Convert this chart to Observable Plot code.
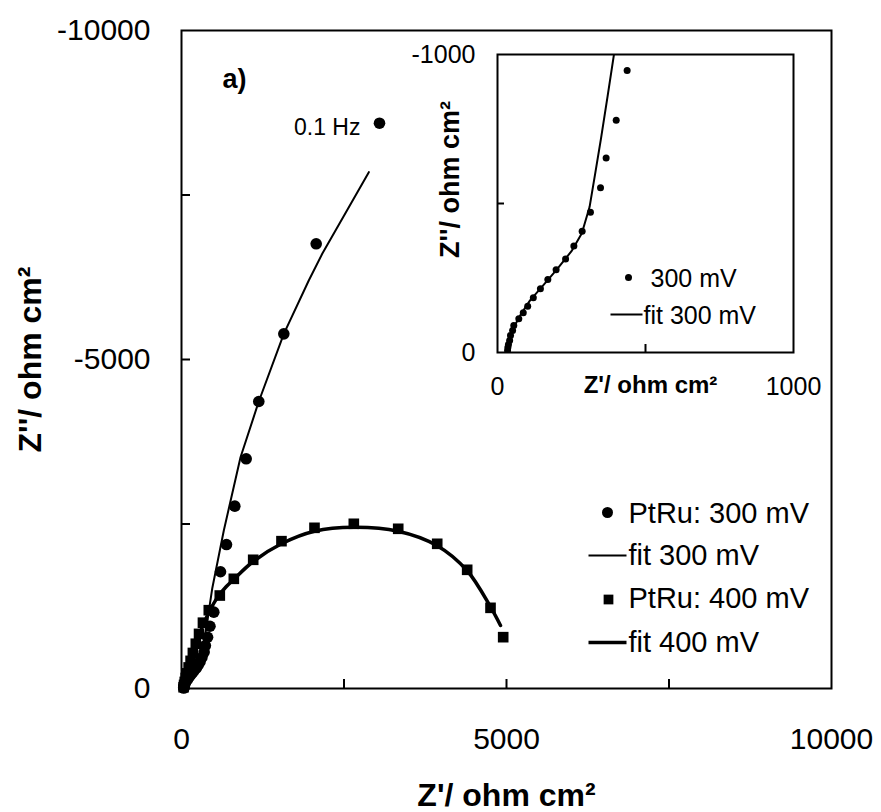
<!DOCTYPE html>
<html>
<head>
<meta charset="utf-8">
<script src="https://cdn.jsdelivr.net/npm/d3@7"></script>
<script src="https://cdn.jsdelivr.net/npm/@observablehq/plot@0.6"></script>
<style>
  body { margin: 0; background: #fff; }
  #chart { position: relative; width: 881px; height: 812px; }
  #chart svg { position: absolute; left: 0; top: 0; }
</style>
</head>
<body>
<div id="chart"></div>
<script>
// ---- data (Z' and Z'' in ohm cm2) ----
const re300 = [3046, 2072, 1574, 1189, 995, 820, 692, 600, 497, 438, 401, 367, 348, 314, 286, 258, 230, 198, 170, 145, 121, 102, 87, 72, 55, 51, 44, 41, 37, 35, 34];
const im300 = [-8591, -6758, -5390, -4362, -3491, -2771, -2188, -1774, -1160, -946, -779, -653, -553, -471, -407, -357, -314, -278, -245, -214, -184, -155, -133, -113, -91, -74, -57, -40, -27, -17, -7];
const fitRe300 = [33, 40, 55, 80, 110, 150, 200, 250, 285, 311, 330, 350, 372, 393, 472, 651, 908, 1189, 1574, 1958, 2165, 2882];
const fitIm300 = [0, -40, -85, -130, -175, -220, -278, -340, -400, -488, -600, -720, -860, -997, -1515, -2401, -3515, -4362, -5390, -6201, -6606, -7847];
const re400 = [4949, 4754, 4395, 3934, 3334, 2651, 2046, 1538, 1103, 805, 589, 420, 330, 270, 220, 175, 140, 110, 85, 65, 50, 40, 32];
const im400 = [-780, -1226, -1804, -2199, -2427, -2503, -2442, -2239, -1956, -1667, -1413, -1190, -1000, -830, -680, -540, -420, -320, -230, -160, -100, -55, -20];
const fitRe400 = [25, 38, 55, 80, 115, 160, 215, 285, 370, 470, 580, 690, 805, 1103, 1538, 2046, 2651, 3334, 3934, 4395, 4754, 4908];
const fitIm400 = [0, -50, -120, -220, -350, -500, -660, -850, -1050, -1250, -1420, -1550, -1660, -1930, -2200, -2390, -2450, -2390, -2170, -1790, -1240, -957];

// ticks and labels
const mainXTicks = [0, 5000, 10000];
const mainXMinor = [2500, 5000, 7500];
const mainYTicks = [0, -5000, -10000];
const mainYMinor = [-2500, -5000, -7500];
const insetXTicks = [0, 1000];
const insetXMinor = [500];
const insetYTicks = [0, -1000];
const insetYMinor = [-500];
const xTitle = "Z'/ ohm cm²";
const yTitle = "Z''/ ohm cm²";
const panelLabel = "a)";
const freqLabel = "0.1 Hz";
const legendMain = ["PtRu: 300 mV", "fit 300 mV", "PtRu: 400 mV", "fit 400 mV"];
const legendInset = ["300 mV", "fit 300 mV"];

// ---- build tables ----
const zip = (a, b) => a.map((v, i) => ({re: v, im: b[i]}));
const pts300 = zip(re300, im300);
const fit300 = zip(fitRe300, fitIm300);
const pts400 = zip(re400, im400);
const fit400 = zip(fitRe400, fitIm400);

const FONT = "Arial, 'Liberation Sans', sans-serif";
const lineSymbol = (half) => ({draw(ctx) { ctx.moveTo(-half, 0); ctx.lineTo(half, 0); }});
const TL = {frameAnchor: "top-left"};

// ---- main plot ----
const W = 881, H = 812;
const mTop = 30, mLeft = 181, mRight = 50, mBottom = 124;
const fw = W - mLeft - mRight, fh = H - mTop - mBottom;

const main = Plot.plot({
  width: W, height: H,
  marginTop: mTop, marginLeft: mLeft, marginRight: mRight, marginBottom: mBottom,
  x: {domain: [0, 10000]},
  y: {domain: [0, -10000]},
  style: {fontFamily: FONT, fontSize: "30px", color: "black", background: "transparent", overflow: "visible"},
  marks: [
    Plot.tickY(mainYMinor, {insetRight: fw - 9, strokeWidth: 2}),
    Plot.tickX(mainXMinor, {insetTop: fh - 9, strokeWidth: 2}),
    Plot.axisY(mainYTicks, {tickSize: 0, tickPadding: 31, tickFormat: d => String(d), label: null}),
    Plot.axisX(mainXTicks, {tickSize: 0, tickPadding: 39, tickFormat: d => String(d), label: null}),
    Plot.line(fit400, {x: "re", y: "im", stroke: "black", strokeWidth: 3.5, curve: "catmull-rom"}),
    Plot.line(fit300, {x: "re", y: "im", stroke: "black", strokeWidth: 2}),
    Plot.dot(pts400, {x: "re", y: "im", symbol: "square", r: 6, fill: "black", stroke: "none"}),
    Plot.dot(pts300, {x: "re", y: "im", r: 5.8, fill: "black", stroke: "none"}),
    Plot.text(pts300.slice(0, 1), {x: "re", y: "im", text: () => freqLabel, textAnchor: "end", dx: -19, dy: 4, fontSize: 23}),
    Plot.text([panelLabel], {...TL, textAnchor: "start", lineAnchor: "middle", dx: 41, dy: 49, fontWeight: "bold", fontSize: 27}),
    Plot.text([xTitle], {frameAnchor: "bottom", textAnchor: "middle", lineAnchor: "middle", dy: 107, fontWeight: "bold", fontSize: 32}),
    Plot.text([yTitle], {frameAnchor: "left", textAnchor: "middle", lineAnchor: "middle", dx: -151, dy: 0, rotate: -90, fontWeight: "bold", fontSize: 32}),
    // legend
    Plot.dot([legendMain[0]], {...TL, dx: 426, dy: 482, r: 5.5, fill: "black", stroke: "none"}),
    Plot.dot([legendMain[1]], {...TL, dx: 426, dy: 525, symbol: lineSymbol(19), fill: "none", stroke: "black", strokeWidth: 2}),
    Plot.dot([legendMain[2]], {...TL, dx: 427, dy: 569, symbol: "square", r: 5.5, fill: "black", stroke: "none"}),
    Plot.dot([legendMain[3]], {...TL, dx: 426, dy: 612, symbol: lineSymbol(19), fill: "none", stroke: "black", strokeWidth: 3.5}),
    Plot.text([legendMain[0]], {...TL, textAnchor: "start", lineAnchor: "middle", dx: 447, dy: 483, fontSize: 29}),
    Plot.text([legendMain[1]], {...TL, textAnchor: "start", lineAnchor: "middle", dx: 447, dy: 525, fontSize: 29}),
    Plot.text([legendMain[2]], {...TL, textAnchor: "start", lineAnchor: "middle", dx: 447, dy: 568, fontSize: 29}),
    Plot.text([legendMain[3]], {...TL, textAnchor: "start", lineAnchor: "middle", dx: 447, dy: 612, fontSize: 29}),
    Plot.frame({strokeWidth: 2})
  ]
});

// ---- inset plot (300 mV, zoomed) ----
const iTop = 54, iLeft = 497, iRight = 88, iBottom = 460;
const ifw = W - iLeft - iRight, ifh = H - iTop - iBottom;
const inset = Plot.plot({
  width: W, height: H,
  marginTop: iTop, marginLeft: iLeft, marginRight: iRight, marginBottom: iBottom,
  x: {domain: [0, 1000]},
  y: {domain: [0, -1000]},
  style: {fontFamily: FONT, fontSize: "25px", color: "black", background: "transparent", overflow: "visible"},
  marks: [
    Plot.tickY(insetYMinor, {insetRight: ifw - 7, strokeWidth: 2}),
    Plot.tickX(insetXMinor, {insetTop: ifh - 8, strokeWidth: 2}),
    Plot.axisY(insetYTicks, {tickSize: 0, tickPadding: 22, tickFormat: d => String(d), label: null}),
    Plot.axisX(insetXTicks, {tickSize: 0, tickPadding: 25, tickFormat: d => String(d), label: null}),
    Plot.line(fit300, {x: "re", y: "im", stroke: "black", strokeWidth: 2, clip: true}),
    Plot.dot(pts300, {x: "re", y: "im", r: 3.5, fill: "black", stroke: "none", clip: true}),
    Plot.text([xTitle], {frameAnchor: "bottom", textAnchor: "middle", lineAnchor: "middle", dx: 5, dy: 33, fontWeight: "bold", fontSize: 24}),
    Plot.text([yTitle], {frameAnchor: "left", textAnchor: "middle", lineAnchor: "middle", dx: -47, dy: -24, rotate: -90, fontWeight: "bold", fontSize: 27}),
    Plot.dot([legendInset[0]], {...TL, dx: 131, dy: 223, r: 3.5, fill: "black", stroke: "none"}),
    Plot.dot([legendInset[1]], {...TL, dx: 129, dy: 260, symbol: lineSymbol(16), fill: "none", stroke: "black", strokeWidth: 2}),
    Plot.text([legendInset[0]], {...TL, textAnchor: "start", lineAnchor: "middle", dx: 153, dy: 224, fontSize: 25}),
    Plot.text([legendInset[1]], {...TL, textAnchor: "start", lineAnchor: "middle", dx: 146, dy: 261, fontSize: 25}),
    Plot.frame({strokeWidth: 2})
  ]
});

const chart = document.getElementById("chart");
chart.appendChild(main);
chart.appendChild(inset);
</script>
</body>
</html>
